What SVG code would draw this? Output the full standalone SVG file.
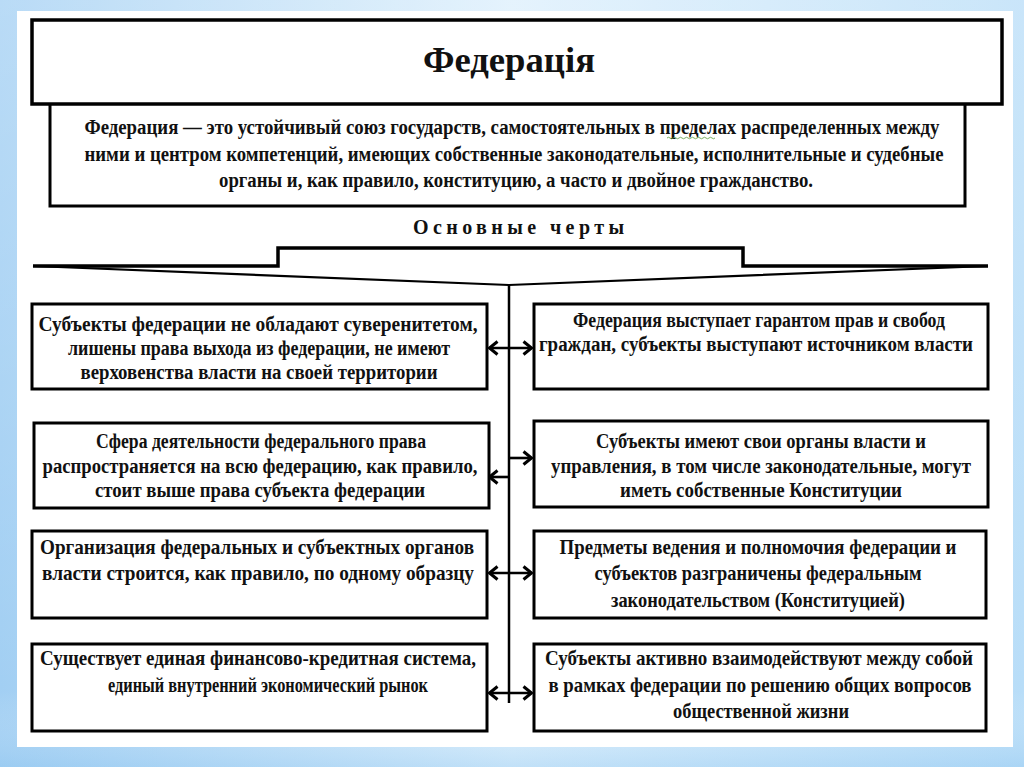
<svg xmlns="http://www.w3.org/2000/svg" width="1024" height="767" viewBox="0 0 1024 767">
<defs>
<linearGradient id="frameH" x1="0" y1="0" x2="1" y2="0">
<stop offset="0" stop-color="#a2cff3"/>
<stop offset="0.5" stop-color="#dceffc"/>
<stop offset="1" stop-color="#b8ddf8"/>
</linearGradient>
<linearGradient id="frameV" x1="0" y1="0" x2="0" y2="1">
<stop offset="0" stop-color="#ffffff" stop-opacity="0.25"/>
<stop offset="0.9" stop-color="#ffffff" stop-opacity="0"/>
<stop offset="1" stop-color="#8fc6f0" stop-opacity="0.35"/>
</linearGradient>
<marker id="chev" viewBox="0 0 12 16" refX="10.5" refY="8" markerWidth="12" markerHeight="16" markerUnits="userSpaceOnUse" orient="auto-start-reverse">
<path d="M2,1.5 L10,8 L2,14.5" fill="none" stroke="#000" stroke-width="3"/>
</marker>
</defs>
<style>
.box{fill:#fff;stroke:#000;stroke-width:3}
.t{font-family:"Liberation Serif","Times New Roman",serif;font-weight:bold;fill:#111;text-anchor:middle}
.b{font-size:20px}
.c{font-size:21px}
.d{font-size:20px}
.ln{fill:none;stroke:#000}
</style>
<rect x="0" y="0" width="1024" height="767" fill="url(#frameH)"/>
<rect x="0" y="0" width="1024" height="767" fill="url(#frameV)"/>
<rect x="17" y="11" width="996" height="736" fill="#fff"/>

<g id="definition">
<path d="M50,104 V206 H965 V104" fill="#fff" stroke="#000" stroke-width="3"/>
<text class="t d" x="512" y="134" textLength="855" lengthAdjust="spacingAndGlyphs">Федерация — это устойчивый союз государств, самостоятельных в пределах распределенных между</text>
<text class="t d" x="514" y="161" textLength="859" lengthAdjust="spacingAndGlyphs">ними и центром компетенций, имеющих собственные законодательные, исполнительные и судебные</text>
<text class="t d" x="516" y="187" textLength="594" lengthAdjust="spacingAndGlyphs">органы и, как правило, конституцию, а часто и двойное гражданство.</text>
<path d="M667,138 q1.5,-1.5 3,0 t3,0 t3,0 t3,0 t3,0 t3,0 t3,0 t3,0 t3,0 t3,0 t3,0 t3,0 t3,0 t3,0 t3,0 t3,0" fill="none" stroke="#5a9a3a" stroke-width="0.8"/>
</g>

<g id="title">
<rect x="32" y="20" width="970" height="84" fill="#fff" stroke="#000" stroke-width="3.5"/>
<text class="t" x="509" y="72" font-size="36" textLength="172" lengthAdjust="spacingAndGlyphs">Федерація</text>
</g>

<g id="features-label">
<text class="t" x="521" y="234" font-size="20" textLength="216" lengthAdjust="spacing" letter-spacing="5">Основные   черты</text>
</g>

<g id="connectors">
<path class="ln" stroke-width="3.5" d="M33,266 H278 V248 H743 V266 H988"/>
<path class="ln" stroke-width="2.2" d="M33,266 L509,285 L988,266"/>
<path class="ln" stroke-width="2.5" d="M509,285 V703"/>
<line class="ln" stroke-width="2.6" x1="489" y1="348" x2="532" y2="348" marker-start="url(#chev)" marker-end="url(#chev)"/>
<line class="ln" stroke-width="2.6" x1="509" y1="477" x2="489" y2="477" marker-end="url(#chev)"/>
<line class="ln" stroke-width="2.6" x1="509" y1="458" x2="532" y2="458" marker-end="url(#chev)"/>
<line class="ln" stroke-width="2.6" x1="489" y1="573" x2="532" y2="573" marker-start="url(#chev)" marker-end="url(#chev)"/>
<line class="ln" stroke-width="2.6" x1="489" y1="693" x2="532" y2="693" marker-start="url(#chev)" marker-end="url(#chev)"/>
</g>

<g id="left1">
<rect class="box" x="32" y="304" width="455" height="85"/>
<text class="t b" x="258" y="331" textLength="439" lengthAdjust="spacingAndGlyphs">Субъекты федерации не обладают суверенитетом,</text>
<text class="t b" x="259" y="355" textLength="382" lengthAdjust="spacingAndGlyphs">лишены права выхода из федерации, не имеют</text>
<text class="t b" x="259" y="379" textLength="357" lengthAdjust="spacingAndGlyphs">верховенства власти на своей территории</text>
</g>

<g id="right1">
<rect class="box" x="534" y="304" width="454" height="85"/>
<text class="t b" x="759" y="327" textLength="372" lengthAdjust="spacingAndGlyphs">Федерация выступает гарантом прав и свобод</text>
<text class="t b" x="756" y="351" textLength="434" lengthAdjust="spacingAndGlyphs">граждан, субъекты выступают источником власти</text>
</g>

<g id="left2">
<rect class="box" x="34" y="423" width="455" height="85"/>
<text class="t b" x="261" y="448" textLength="330" lengthAdjust="spacingAndGlyphs">Сфера деятельности федерального права</text>
<text class="t b" x="260" y="473" textLength="435" lengthAdjust="spacingAndGlyphs">распространяется на всю федерацию, как правило,</text>
<text class="t b" x="260" y="497" textLength="330" lengthAdjust="spacingAndGlyphs">стоит выше права субъекта федерации</text>
</g>

<g id="right2">
<rect class="box" x="534" y="421" width="454" height="86"/>
<text class="t b" x="761" y="448" textLength="330" lengthAdjust="spacingAndGlyphs">Субъекты имеют свои органы власти и</text>
<text class="t b" x="761" y="473" textLength="420" lengthAdjust="spacingAndGlyphs">управления, в том числе законодательные, могут</text>
<text class="t b" x="761" y="497" textLength="282" lengthAdjust="spacingAndGlyphs">иметь собственные Конституции</text>
</g>

<g id="left3">
<rect class="box" x="32" y="531" width="455" height="87"/>
<text class="t c" x="257" y="554" textLength="434" lengthAdjust="spacingAndGlyphs">Организация федеральных и субъектных органов</text>
<text class="t c" x="258" y="580" textLength="432" lengthAdjust="spacingAndGlyphs">власти строится, как правило,  по одному образцу</text>
</g>

<g id="right3">
<rect class="box" x="534" y="531" width="452" height="87"/>
<text class="t c" x="758" y="554" textLength="397" lengthAdjust="spacingAndGlyphs">Предметы ведения и полномочия федерации и</text>
<text class="t c" x="758" y="580" textLength="327" lengthAdjust="spacingAndGlyphs">субъектов разграничены федеральным</text>
<text class="t c" x="758" y="607" textLength="294" lengthAdjust="spacingAndGlyphs">законодательством (Конституцией)</text>
</g>

<g id="left4">
<rect class="box" x="32" y="644" width="455" height="87"/>
<text class="t c" x="258" y="665" textLength="436" lengthAdjust="spacingAndGlyphs">Существует единая финансово-кредитная система,</text>
<text class="t c" x="268" y="692" textLength="320" lengthAdjust="spacingAndGlyphs">единый внутренний экономический рынок</text>
</g>

<g id="right4">
<rect class="box" x="534" y="644" width="452" height="87"/>
<text class="t c" x="759" y="665" textLength="428" lengthAdjust="spacingAndGlyphs">Субъекты активно взаимодействуют между собой</text>
<text class="t c" x="760" y="692" textLength="423" lengthAdjust="spacingAndGlyphs">в рамках федерации по решению общих вопросов</text>
<text class="t c" x="761" y="718" textLength="176" lengthAdjust="spacingAndGlyphs">общественной жизни</text>
</g>
</svg>
